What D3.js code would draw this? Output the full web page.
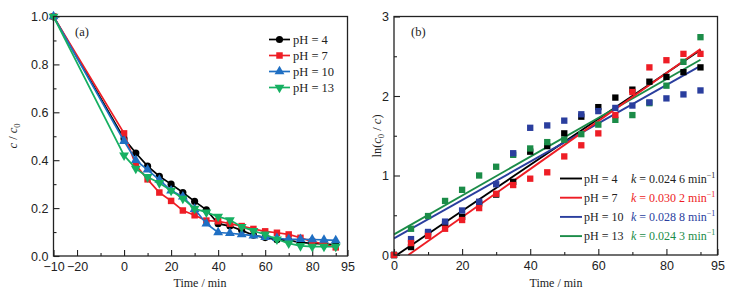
<!DOCTYPE html>
<html>
<head>
<meta charset="UTF-8">
<script src="https://d3js.org/d3.v7.min.js"></script>
<style>
  body { margin: 0; background: #fff; }
  svg { font-family: "Liberation Serif", "Times New Roman", serif; }
  .tick text { font-size: 12.5px; fill: #222; }
  .tick line { stroke: #222; stroke-width: 1.1px; }
</style>
</head>
<body>
<div id="chart"></div>
<script>
// ---- panel (a): c/c0 vs time ----
const timeA = [-30, 0, 5, 10, 15, 20, 25, 30, 35, 40, 45, 50, 55, 60, 65, 70, 75, 80, 85, 90];
const ph4A  = [1.0, 0.49, 0.43, 0.375, 0.333, 0.30, 0.265, 0.228, 0.193, 0.135, 0.125, 0.107, 0.087, 0.077, 0.068, 0.065, 0.057, 0.053, 0.05, 0.048];
const ph7A  = [1.0, 0.512, 0.38, 0.32, 0.265, 0.23, 0.19, 0.17, 0.148, 0.145, 0.135, 0.125, 0.113, 0.103, 0.097, 0.09, 0.076, 0.06, 0.05, 0.036];
const ph10A = [1.0, 0.48, 0.40, 0.36, 0.318, 0.273, 0.248, 0.196, 0.135, 0.098, 0.095, 0.09, 0.085, 0.079, 0.074, 0.07, 0.07, 0.069, 0.067, 0.065];
const ph13A = [1.0, 0.42, 0.365, 0.33, 0.305, 0.273, 0.24, 0.198, 0.182, 0.165, 0.15, 0.122, 0.105, 0.09, 0.07, 0.053, 0.042, 0.039, 0.039, 0.039];
const xTicksA = [-30, -20, 0, 20, 40, 60, 80, 95];
const xTickLabelsA = ["\u221210", "\u221220", "0", "20", "40", "60", "80", "95"];
const xMinorA = [-10, 10, 30, 50, 70, 90];
const yTicksA = [0, 0.2, 0.4, 0.6, 0.8, 1.0];
const yMinorA = [0.1, 0.3, 0.5, 0.7, 0.9];

// ---- panel (b): ln(c0/c) vs time ----
const timeB = [0, 5, 10, 15, 20, 25, 30, 35, 40, 45, 50, 55, 60, 65, 70, 75, 80, 85, 90];
const ph4B  = [0, 0.10, 0.27, 0.39, 0.48, 0.65, 0.76, 0.92, 1.30, 1.37, 1.53, 1.74, 1.86, 1.98, 2.08, 2.18, 2.24, 2.30, 2.36];
const ph7B  = [0, 0.15, 0.24, 0.33, 0.44, 0.59, 0.77, 0.88, 0.96, 1.04, 1.24, 1.38, 1.53, 1.76, 2.05, 2.36, 2.45, 2.53, 2.53];
const ph10B = [0, 0.20, 0.29, 0.42, 0.56, 0.67, 0.89, 1.28, 1.60, 1.63, 1.69, 1.77, 1.81, 1.85, 1.88, 1.92, 1.97, 2.02, 2.07];
const ph13B = [0, 0.33, 0.49, 0.68, 0.82, 1.00, 1.11, 1.26, 1.34, 1.42, 1.45, 1.52, 1.64, 1.70, 1.76, 1.91, 2.13, 2.43, 2.74];
const fitSlope     = [0.0289, 0.0302, 0.0241, 0.0244];
const fitIntercept = [-0.023, -0.127, 0.21, 0.26];
const seriesNames = ["pH = 4", "pH = 7", "pH = 10", "pH = 13"];
const kLabels = ["0.024 6", "0.030 2", "0.028 8", "0.024 3"];
const xTicksB = [0, 20, 40, 60, 80, 95];
const xMinorB = [10, 30, 50, 70, 90];
const yTicksB = [0, 1, 2, 3];
const yMinorB = [0.5, 1.5, 2.5];

const colorsA = ["#000000", "#ee1d25", "#1f6fc3", "#16b062"];
const colorsB = ["#000000", "#ee1d25", "#2a3e9e", "#1b8c48"];
const symbolsA = [d3.symbolCircle, d3.symbolSquare, d3.symbolTriangle, d3.symbolTriangle];
const symSize = [40, 42, 42, 42];

const svg = d3.select("#chart").append("svg")
  .attr("width", 735).attr("height", 303);

function axes(g, x, y, xt, xlab, xm, yt, ylab, ym, bottom, left) {
  g.append("g").attr("transform", `translate(0,${bottom})`)
    .call(d3.axisBottom(x).tickValues(xt).tickSize(-6).tickPadding(6)
      .tickFormat((d, i) => xlab[i]))
    .call(a => a.select(".domain").remove());
  g.append("g").attr("transform", `translate(0,${bottom})`)
    .call(d3.axisBottom(x).tickValues(xm).tickSize(-3).tickFormat(""))
    .call(a => a.select(".domain").remove());
  g.append("g").attr("transform", `translate(${left},0)`)
    .call(d3.axisLeft(y).tickValues(yt).tickSize(-6).tickPadding(5)
      .tickFormat((d, i) => ylab[i]))
    .call(a => a.select(".domain").remove());
  g.append("g").attr("transform", `translate(${left},0)`)
    .call(d3.axisLeft(y).tickValues(ym).tickSize(-3).tickFormat(""))
    .call(a => a.select(".domain").remove());
  g.selectAll(".tick text").attr("font-family", null).attr("font-size", null);
}

// ===== panel (a) =====
const xa = d3.scaleLinear().domain([-30, 95]).range([53.5, 347.5]);
const ya = d3.scaleLinear().domain([0, 1]).range([256, 16.5]);
const ga = svg.append("g");
axes(ga, xa, ya, xTicksA, xTickLabelsA, xMinorA,
  yTicksA, yTicksA.map(d3.format(".1f")), yMinorA, 256, 53.5);

const seriesA = [ph4A, ph7A, ph10A, ph13A];
seriesA.forEach((vals, s) => {
  const pts = timeA.map((t, i) => [t, vals[i]]);
  ga.append("path").datum(pts)
    .attr("fill", "none").attr("stroke", colorsA[s]).attr("stroke-width", 1.7)
    .attr("d", d3.line().x(d => xa(d[0])).y(d => ya(d[1])));
  ga.selectAll(null).data(pts).enter().append("path")
    .attr("d", d3.symbol().type(symbolsA[s]).size(symSize[s]))
    .attr("transform", d => `translate(${xa(d[0])},${ya(d[1])})` + (s === 3 ? " rotate(180)" : ""))
    .attr("fill", colorsA[s]);
});
ga.append("rect").attr("x", 53.5).attr("y", 16.5).attr("width", 294).attr("height", 239.5)
  .attr("fill", "none").attr("stroke", "#222").attr("stroke-width", 1.3);

// legend (a)
seriesNames.forEach((n, s) => {
  const y0 = 39.5 + s * 16;
  ga.append("line").attr("x1", 269).attr("x2", 290).attr("y1", y0).attr("y2", y0)
    .attr("stroke", colorsA[s]).attr("stroke-width", 1.7);
  ga.append("path").attr("d", d3.symbol().type(symbolsA[s]).size(symSize[s]))
    .attr("transform", `translate(279.5,${y0})` + (s === 3 ? " rotate(180)" : ""))
    .attr("fill", colorsA[s]);
  ga.append("text").attr("x", 293).attr("y", y0 + 4.3).attr("font-size", 12.5)
    .attr("fill", "#222").text(n);
});
ga.append("text").attr("x", 75).attr("y", 36).attr("font-size", 12.5).attr("fill", "#222").text("(a)");
ga.append("text").attr("x", 200).attr("y", 287).attr("font-size", 12).attr("fill", "#222")
  .attr("text-anchor", "middle").text("Time / min");
const yta = ga.append("text").attr("transform", "translate(17,136) rotate(-90)")
  .attr("text-anchor", "middle").attr("font-size", 12.5).attr("fill", "#222");
yta.append("tspan").attr("font-style", "italic").text("c");
yta.append("tspan").text(" / ");
yta.append("tspan").attr("font-style", "italic").text("c");
yta.append("tspan").attr("font-size", 8.5).attr("dy", 3).text("0");

// ===== panel (b) =====
const xb = d3.scaleLinear().domain([0, 95]).range([394, 717.5]);
const yb = d3.scaleLinear().domain([0, 3]).range([255, 16.5]);
const gb = svg.append("g");
axes(gb, xb, yb, xTicksB, xTicksB.map(String), xMinorB,
  yTicksB, yTicksB.map(String), yMinorB, 255, 394);

gb.append("clipPath").attr("id", "clipb").append("rect")
  .attr("x", 394).attr("y", 16.5).attr("width", 323.5).attr("height", 238.5);

const seriesB = [ph4B, ph7B, ph10B, ph13B];
const lineOrder = [0, 2, 3, 1];
lineOrder.forEach(s => {
  const t0 = Math.max(0, -fitIntercept[s] / fitSlope[s]);
  const pts = [t0, 90].map(t => [t, fitSlope[s] * t + fitIntercept[s]]);
  gb.append("path").datum(pts).attr("clip-path", "url(#clipb)")
    .attr("fill", "none").attr("stroke", colorsB[s]).attr("stroke-width", 1.9)
    .attr("d", d3.line().x(d => xb(d[0])).y(d => yb(d[1])));
});
const markOrder = [0, 3, 2, 1];
markOrder.forEach(s => {
  gb.selectAll(null).data(timeB.map((t, i) => [t, seriesB[s][i]])).enter().append("path")
    .attr("d", d3.symbol().type(d3.symbolSquare).size(40))
    .attr("transform", d => `translate(${xb(d[0])},${yb(d[1])})`)
    .attr("fill", colorsB[s]);
});
gb.append("rect").attr("x", 394).attr("y", 16.5).attr("width", 323.5).attr("height", 238.5)
  .attr("fill", "none").attr("stroke", "#222").attr("stroke-width", 1.3);

// legend (b)
seriesNames.forEach((n, s) => {
  const y0 = 178.5 + s * 19.2;
  gb.append("line").attr("x1", 560).attr("x2", 582).attr("y1", y0).attr("y2", y0)
    .attr("stroke", colorsB[s]).attr("stroke-width", 1.9);
  gb.append("text").attr("x", 584).attr("y", y0 + 4.2).attr("font-size", 12)
    .attr("fill", "#222").text(n);
  const kt = gb.append("text").attr("x", 631).attr("y", y0 + 4.2).attr("font-size", 12)
    .attr("fill", s === 0 ? "#222" : colorsB[s]);
  kt.append("tspan").attr("font-style", "italic").text("k");
  kt.append("tspan").text(" = " + kLabels[s] + " min");
  kt.append("tspan").attr("font-size", 8).attr("dy", -5).text("\u22121");
});
gb.append("text").attr("x", 411).attr("y", 36).attr("font-size", 12.5).attr("fill", "#222").text("(b)");
gb.append("text").attr("x", 556).attr("y", 287).attr("font-size", 12).attr("fill", "#222")
  .attr("text-anchor", "middle").text("Time / min");
const ytb = gb.append("text").attr("transform", "translate(381,136) rotate(-90)")
  .attr("text-anchor", "middle").attr("font-size", 12.5).attr("fill", "#222");
ytb.append("tspan").text("ln(");
ytb.append("tspan").attr("font-style", "italic").text("c");
ytb.append("tspan").attr("font-size", 8.5).attr("dy", 3).text("0");
ytb.append("tspan").attr("dy", -3).text(" / ");
ytb.append("tspan").attr("font-style", "italic").text("c");
ytb.append("tspan").text(")");
</script>
</body>
</html>
